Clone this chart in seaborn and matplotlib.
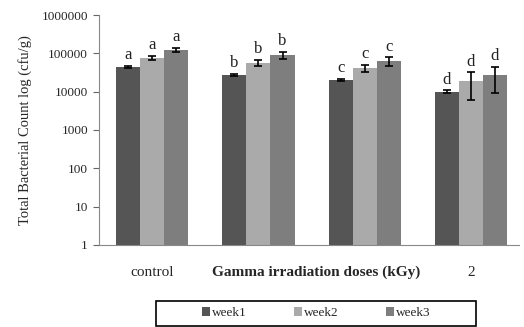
import numpy as np
import pandas as pd
import matplotlib
matplotlib.use('Agg')
import matplotlib.pyplot as plt
import seaborn as sns

groups = ['control', 'g2', 'g3', '2']
weeks = ['week1', 'week2', 'week3']
week1 = [45000, 27500, 20000, 10000]
week2 = [76000, 56000, 42000, 19000]
week3 = [123000, 91000, 63000, 27000]
err1 = [3000, 1500, 1500, 800]
err2 = [10000, 10000, 9000, 13000]
err3 = [15000, 18000, 15000, 18000]
letters = ['a', 'b', 'c', 'd']

rows = []
for i, g in enumerate(groups):
    for w, vals in zip(weeks, [week1, week2, week3]):
        rows.append({'group': g, 'week': w, 'count': vals[i]})
df = pd.DataFrame(rows)

sns.set_style('white')
plt.rcParams['font.family'] = ['Liberation Serif', 'DejaVu Serif']

fig = plt.figure(figsize=(5.24, 3.27), dpi=100)
ax = fig.add_axes([0.189, 0.251, 0.801, 0.703])

palette = {'week1': '#555555', 'week2': '#aaaaaa', 'week3': '#7e7e7e'}
sns.barplot(data=df, x='group', y='count', hue='week', palette=palette,
            width=0.68, errorbar=None, ax=ax, saturation=1, linewidth=0)
ax.set_yscale('log')
ax.set_ylim(1, 1000000)
ax.set_xlim(-0.5, 3.45)

errs = {'week1': err1, 'week2': err2, 'week3': err3}
for cont, w in zip(ax.containers, weeks):
    vals = df[df['week'] == w]['count'].values
    xs = [p.get_x() + p.get_width() / 2 for p in cont.patches]
    ax.errorbar(xs, vals, yerr=errs[w], fmt='none', ecolor='black',
                elinewidth=1.2, capsize=3, capthick=1.2)
    for x, v, e, l in zip(xs, vals, errs[w], letters):
        ax.annotate(l, (x, v + e), xytext=(0, 2), textcoords='offset points',
                    ha='center', va='bottom', fontsize=12, color='#222222')

ax.set_yticks([1, 10, 100, 1000, 10000, 100000, 1000000])
ax.set_yticklabels(['1', '10', '100', '1000', '10000', '100000', '1000000'],
                   fontsize=9.5)
ax.yaxis.set_minor_locator(matplotlib.ticker.NullLocator())
ax.tick_params(axis='y', left=True, length=4, width=0.8, color='#666666', pad=4)
ax.tick_params(axis='x', bottom=False, pad=12)
ax.set_xticks(range(4))
ax.set_xticklabels(['control', '', '', '2'], fontsize=11)
ax.text((212 - 99) / 420, -0.12, 'Gamma irradiation doses (kGy)',
        transform=ax.transAxes, ha='left', va='center', fontsize=11,
        fontweight='bold')

ax.set_xlabel('')
ax.set_ylabel('Total Bacterial Count log (cfu/g)', fontsize=10.5, labelpad=7)

for s in ['top', 'right']:
    ax.spines[s].set_visible(False)
ax.spines['left'].set_color('#888888')
ax.spines['bottom'].set_color('#888888')

ax.get_legend().remove()
handles, labels = ax.get_legend_handles_labels()
leg = fig.legend(handles, labels, loc='center', bbox_to_anchor=(316 / 524, 1 - 313 / 327),
                 ncol=3, frameon=False, fontsize=9.5,
                 handlelength=0.6, handleheight=0.6, handletextpad=0.15,
                 columnspacing=3.6)
fig.patches.append(plt.Rectangle((156 / 524, 1 - 326 / 327), 320 / 524, 25 / 327,
                                 transform=fig.transFigure, fill=False,
                                 edgecolor='black', linewidth=1.2))

fig.savefig('out.png', dpi=100)
